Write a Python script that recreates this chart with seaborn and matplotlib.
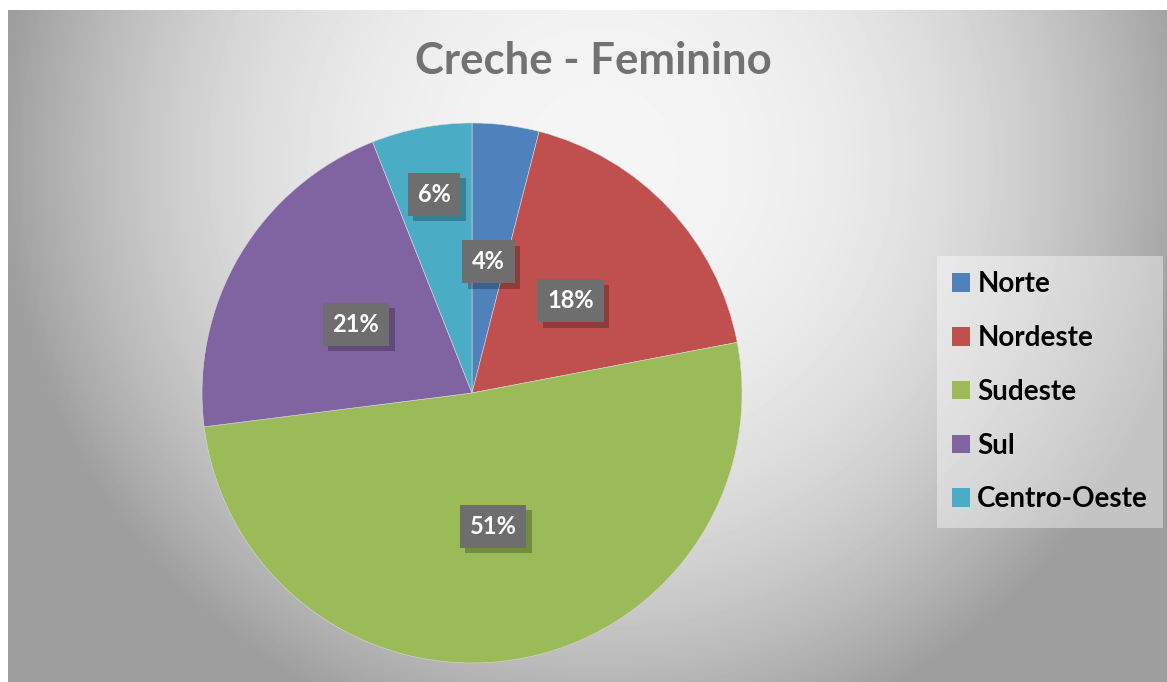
import numpy as np
import matplotlib
matplotlib.use("Agg")
import matplotlib.pyplot as plt
import matplotlib.patheffects as pe
import seaborn as sns

# data
regions = ["Norte", "Nordeste", "Sudeste", "Sul", "Centro-Oeste"]
shares = [4, 18, 51, 21, 6]
region_colors = ["#4F81BD", "#C0504D", "#9BBB59", "#8064A2", "#4BACC6"]
title = "Creche - Feminino"

# label distances from centre (Excel nudged the small slice outward)
label_dist = [0.49, 0.5, 0.5, 0.5, 0.75]

sns.set_theme(style="white")
plt.rcParams["font.family"] = ["Lato", "DejaVu Sans"]

W, H = 1167, 682
fig = plt.figure(figsize=(W / 100, H / 100), dpi=100)
fig.patch.set_facecolor("white")

# radial grey background
bg = fig.add_axes([8 / W, 0, 1 - 8 / W, 1 - 10 / H], zorder=0)
xs = np.arange(8, W)
ys = np.arange(10, H)
X, Y = np.meshgrid(xs, ys)
d = np.sqrt(((X - 600) / 600.0) ** 2 + ((Y - 160) / 600.0) ** 2)
d = np.clip(d, 0, 1)
v = 0.96 - 0.34 * d ** 2.3
bg.imshow(v, cmap="gray", vmin=0, vmax=1, aspect="auto",
          extent=[0, 1, 0, 1], interpolation="bilinear")
bg.set_axis_off()

# pie
ax = fig.add_axes([(472 - 270) / W, (682 - 663) / H, 540 / W, 540 / H], zorder=1)
wedges, _ = ax.pie(shares, colors=sns.color_palette(region_colors),
                   startangle=90, counterclock=False, radius=1,
                   wedgeprops=dict(edgecolor="#d8d8d8", linewidth=0.4))
ax.set_xlim(-1, 1)
ax.set_ylim(-1, 1)
ax.set_aspect("equal")
ax.set_axis_off()

for w, val, dist in zip(wedges, shares, label_dist):
    ang = np.deg2rad((w.theta1 + w.theta2) / 2)
    t = ax.text(dist * np.cos(ang), dist * np.sin(ang), f"{val}%",
                ha="center", va="center", color="white", fontsize=17,
                fontweight="bold",
                bbox=dict(boxstyle="square,pad=0.42", facecolor="#6e6e6e",
                          edgecolor="none"))
    t.get_bbox_patch().set_path_effects([
        pe.SimplePatchShadow(offset=(4, -4), shadow_rgbFace="black", alpha=0.25),
        pe.Normal()])

fig.text(593 / W, 1 - 61 / H, title, ha="center", va="center",
         fontsize=31.5, fontweight="bold", color="#727272")

leg = fig.legend(wedges, regions, loc="upper left",
                 bbox_to_anchor=(937 / W, 1 - 256 / H), borderaxespad=0,
                 prop=dict(size=20, weight="bold"), handlelength=0.65,
                 handleheight=0.65, handletextpad=0.25, labelspacing=1.0,
                 borderpad=0.55, frameon=True, fancybox=False)
leg.get_frame().set_facecolor("white")
leg.get_frame().set_alpha(0.4)
leg.get_frame().set_edgecolor("none")
for txt in leg.get_texts():
    txt.set_color("black")
for h in leg.legend_handles:
    h.set_edgecolor("none")

fig.savefig("out.png", dpi=100)
